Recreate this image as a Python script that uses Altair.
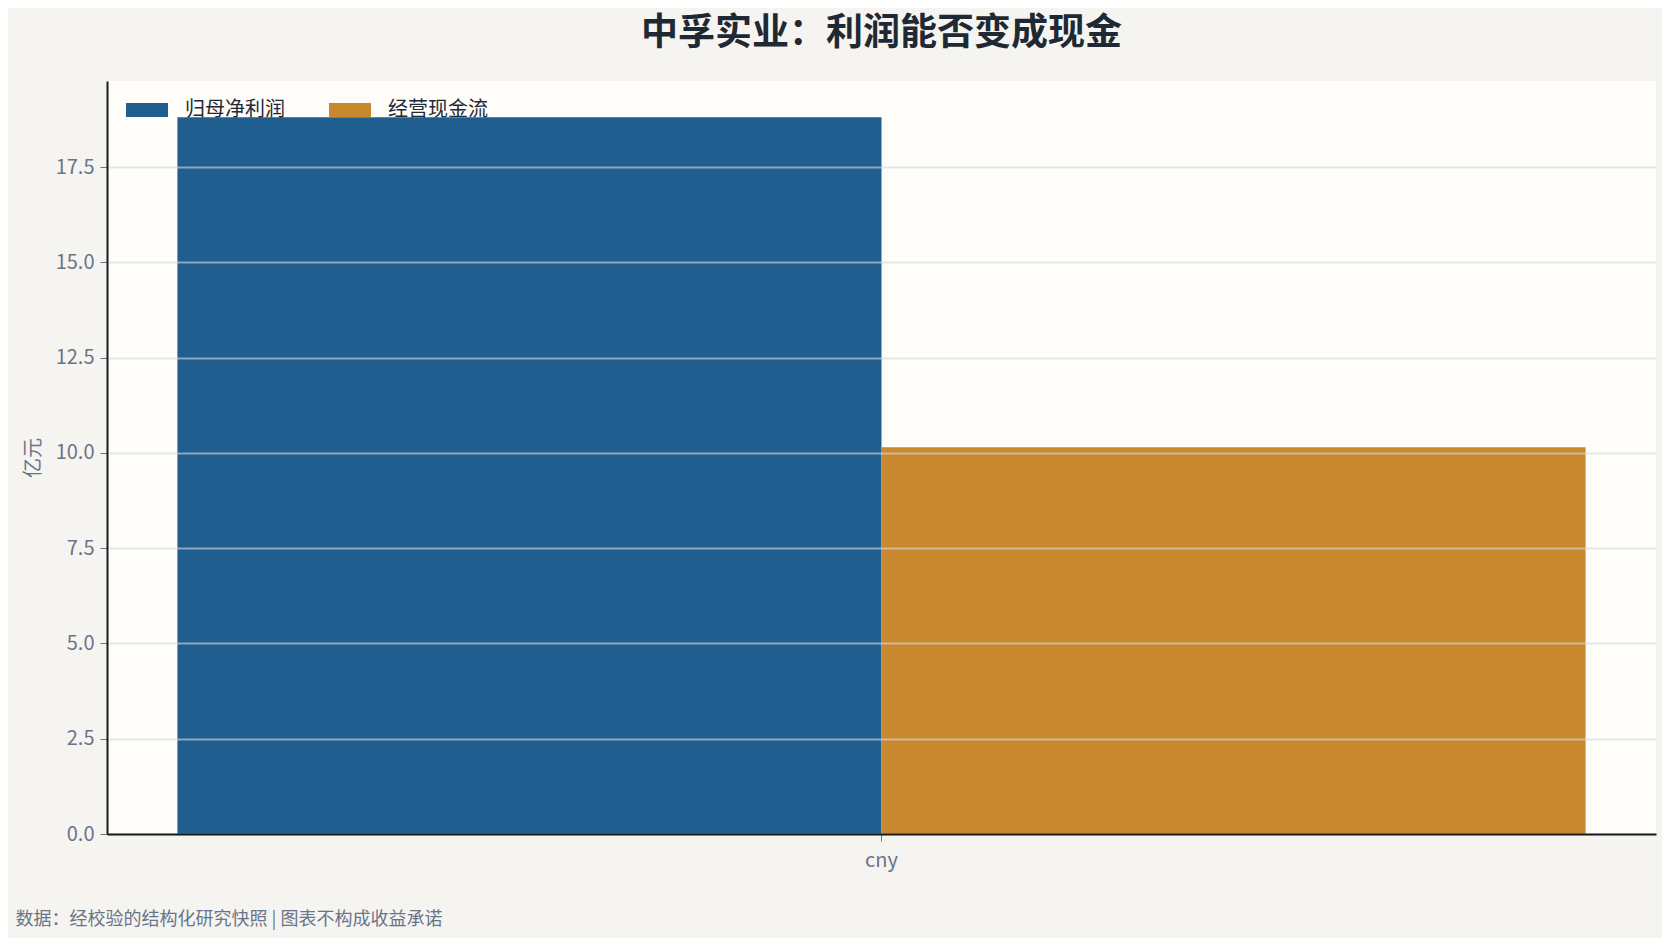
import altair as alt
import pandas as pd

# ---------------------------------------------------------------------------
# Data
# ---------------------------------------------------------------------------

currencies = ["cny", "cny"]
series = ["归母净利润", "经营现金流"]
values = [18.81, 10.15]
series_colors = ["#1F5E8F", "#C8892E"]
y_ticks = [0, 2.5, 5, 7.5, 10, 12.5, 15, 17.5]

TITLE = "中孚实业：利润能否变成现金"
FOOTER = "数据：经校验的结构化研究快照 | 图表不构成收益承诺"
FONT = "Noto Sans CJK SC"
GRAY = "#69748A"

df = pd.DataFrame({"currency": currencies, "series": series, "value": values})

# ---------------------------------------------------------------------------
# Chart
# ---------------------------------------------------------------------------

bars = (
    alt.Chart(df)
    .mark_bar()
    .encode(
        x=alt.X(
            "currency:N",
            scale=alt.Scale(paddingInner=0, paddingOuter=0.05),
            axis=alt.Axis(
                title=FOOTER,
                titleX=-92,
                titleY=85,
                titleAlign="left",
                titleBaseline="middle",
                titleFontSize=18,
                titleFontWeight="normal",
                titleColor=GRAY,
                labelAngle=0,
                labelFontSize=20,
                labelColor=GRAY,
                labelPadding=9,
                tickSize=7,
                tickColor=GRAY,
                domainColor="#1A1A1A",
                domainWidth=2,
                grid=False,
                zindex=2,
            ),
        ),
        xOffset=alt.XOffset(
            "series:N",
            sort=series,
            scale=alt.Scale(paddingInner=0, paddingOuter=0),
        ),
        y=alt.Y(
            "value:Q",
            scale=alt.Scale(domain=[0, 19.76], nice=False),
            axis=alt.Axis(
                title="亿元",
                titleFontSize=20,
                titleFontWeight="normal",
                titleColor=GRAY,
                titlePadding=12,
                values=y_ticks,
                format=".1f",
                labelFontSize=20,
                labelColor=GRAY,
                labelPadding=6,
                tickSize=7,
                tickColor=GRAY,
                domainColor="#1A1A1A",
                domainWidth=2,
                gridColor="#D3D9E3",
                gridOpacity=0.6,
                gridWidth=2,
                zindex=1,
            ),
        ),
        color=alt.Color(
            "series:N",
            sort=series,
            scale=alt.Scale(domain=series, range=series_colors),
            legend=alt.Legend(
                title=None,
                orient="none",
                direction="horizontal",
                legendX=26,
                legendY=15,
                padding=0,
                symbolType="M-1.5,-0.5H1.5V0.5H-1.5Z",
                symbolSize=784,
                symbolStrokeWidth=0,
                symbolOpacity=1,
                labelFontSize=20,
                labelColor="#1F2937",
                labelOffset=24,
                columnPadding=44,
            ),
        ),
    )
)

chart = (
    bars.properties(
        width=1549,
        height=753,
        title=alt.TitleParams(
            TITLE,
            anchor="middle",
            frame="group",
            fontSize=37,
            fontWeight="bold",
            color="#1F2933",
            offset=28,
        ),
        autosize=alt.AutoSizeParams(type="none"),
        padding={"left": 99, "top": 73, "right": 6, "bottom": 104},
    )
    .configure(background="#F5F4F0", font=FONT)
    .configure_view(stroke=None, fill="#FEFDF9")
)

chart.save("out.html", embed_options={"renderer": "svg", "actions": False})
